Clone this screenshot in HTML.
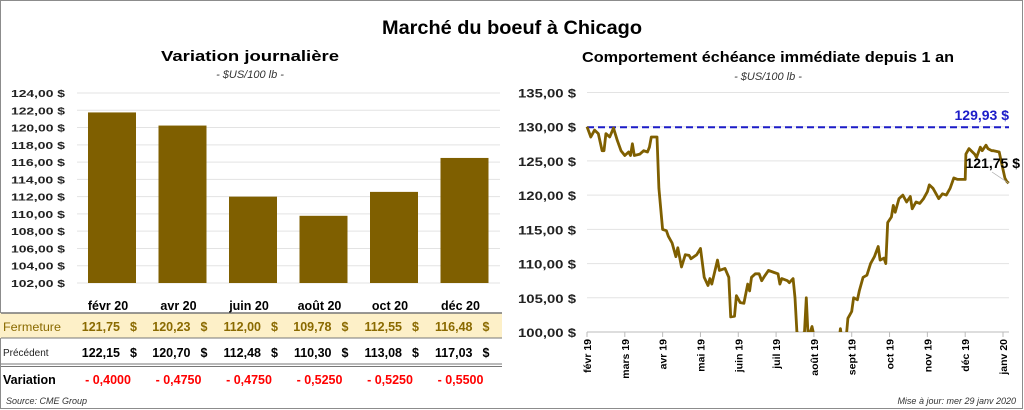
<!DOCTYPE html>
<html><head><meta charset="utf-8"><style>
html,body{margin:0;padding:0;background:#fff;}
svg{display:block;font-family:"Liberation Sans",sans-serif;}
</style></head><body>
<svg id="s" width="1024" height="410" viewBox="0 0 1024 410" xmlns="http://www.w3.org/2000/svg">
<rect x="0.5" y="0.5" width="1022" height="408" fill="#fff" stroke="#8c8c8c"/>
<text x="512" y="34" text-anchor="middle" font-size="19" font-weight="bold" textLength="260" lengthAdjust="spacingAndGlyphs">Marché du boeuf à Chicago</text>
<text x="250" y="61" text-anchor="middle" font-size="15" font-weight="bold" textLength="178" lengthAdjust="spacingAndGlyphs">Variation journalière</text>
<text x="250" y="78" text-anchor="middle" font-size="11" font-style="italic" fill="#333">- $US/100 lb -</text>
<text x="768" y="62" text-anchor="middle" font-size="15" font-weight="bold" textLength="372" lengthAdjust="spacingAndGlyphs">Comportement échéance immédiate depuis 1 an</text>
<text x="768" y="80" text-anchor="middle" font-size="11" font-style="italic" fill="#333">- $US/100 lb -</text>
<g id="left"></g>
<g id="table"></g>
<g id="right"></g>
<text x="6" y="404" font-size="9" font-style="italic" fill="#333">Source: CME Group</text>
<text x="1016" y="404" text-anchor="end" font-size="9" font-style="italic" fill="#333">Mise à jour: mer 29 janv 2020</text>
</svg>
<script>
const barCategories=["févr 20","avr 20","juin 20","août 20","oct 20","déc 20"];
const barValues=[121.75,120.23,112.00,109.78,112.55,116.48];
const prevValues=[122.15,120.70,112.48,110.30,113.08,117.03];
const closeLabels=["121,75","120,23","112,00","109,78","112,55","116,48"];
const prevLabels=["122,15","120,70","112,48","110,30","113,08","117,03"];
const varLabels=["- 0,4000","- 0,4750","- 0,4750","- 0,5250","- 0,5250","- 0,5500"];
const leftTicks=[102,104,106,108,110,112,114,116,118,120,122,124];
const lineTicks=[100,105,110,115,120,125,130,135];
const monthLabels=["févr 19","mars 19","avr 19","mai 19","juin 19","juil 19","août 19","sept 19","oct 19","nov 19","déc 19","janv 20"];
const linePts=[[0,130],[0.1,128.5],[0.2,129.5],[0.3,129],[0.4,126.5],[0.45,126.5],[0.5,129],[0.6,128.5],[0.7,129.8],[0.8,128],[0.9,126.5],[1.0,125.8],[1.1,126.3],[1.15,125.8],[1.2,127.5],[1.25,125.8],[1.4,126],[1.5,126.5],[1.6,126.3],[1.65,127],[1.7,128.5],[1.85,128.5],[1.9,121],[2.0,115],[2.1,114.8],[2.15,114],[2.25,113],[2.3,112],[2.35,111],[2.4,112.3],[2.5,109.5],[2.6,111.3],[2.7,111.2],[2.75,110.7],[2.9,111.3],[3.0,112.2],[3.1,108],[3.2,106.8],[3.25,107.8],[3.3,107],[3.45,110.5],[3.5,109],[3.65,109.3],[3.75,108],[3.8,102.2],[3.9,102.3],[3.95,105.3],[4.05,104.3],[4.15,104.2],[4.25,107],[4.3,106],[4.35,108],[4.45,108.5],[4.55,108.5],[4.62,107.5],[4.7,108.2],[4.8,109],[4.95,108.7],[5.05,108.5],[5.1,107],[5.15,107.8],[5.3,107.5],[5.35,107.2],[5.45,107.8],[5.5,105],[5.55,100],[5.65,99.5],[5.75,100],[5.8,105],[5.85,99],[5.95,100.8],[6.0,99.5],[6.2,96],[6.4,95],[6.6,97],[6.65,98],[6.7,100.5],[6.75,98.5],[6.85,99],[6.9,102],[6.95,102.5],[7.0,103],[7.05,105],[7.15,104.7],[7.2,106],[7.3,108],[7.4,108.3],[7.5,110],[7.6,111],[7.7,112.5],[7.75,110.5],[7.85,110.8],[7.9,110],[7.95,116],[8.05,116.8],[8.1,118.5],[8.15,117.5],[8.25,119.5],[8.35,120],[8.45,119],[8.55,119.8],[8.6,118],[8.7,119],[8.8,118.8],[8.9,119.5],[9.0,120.5],[9.05,121.5],[9.15,121],[9.2,120.5],[9.3,119.5],[9.4,120.2],[9.5,120],[9.6,121],[9.7,122.5],[9.8,122.3],[9.9,122.3],[10.0,122.3],[10.02,126],[10.1,126.8],[10.25,126],[10.3,125.5],[10.4,127],[10.45,126.5],[10.55,127.3],[10.6,126.8],[10.7,126.5],[10.75,126.5],[10.9,126.3],[10.95,125],[11.05,122.5],[11.1,122],[11.15,121.75]];
const refValue=129.93;
const refLabel="129,93 $";
const lastLabel="121,75 $";

const NS="http://www.w3.org/2000/svg";
function mk(tag,attrs,parent,txt){const e=document.createElementNS(NS,tag);for(const k in attrs)e.setAttribute(k,attrs[k]);if(txt!==undefined)e.textContent=txt;parent.appendChild(e);return e;}
const fmt=v=>v.toFixed(2).replace('.',',')+' $';

// left bar chart
const L=document.getElementById('left');
const ly=v=>283-(v-102)*(190/22);
const bx=i=>112+i*70.5;
leftTicks.forEach(t=>{
  const g=mk('line',{x1:77,x2:500,y1:ly(t),y2:ly(t),stroke:'#e3e3e3'},L);
  
  
  const tx=mk('text',{x:65,y:ly(t)+4,'text-anchor':'end','font-size':10.5,'font-weight':'bold',fill:'#222',textLength:54,lengthAdjust:'spacingAndGlyphs'},L,fmt(t));
  
  
});
barValues.forEach((v,i)=>{
  const r=mk('rect',{x:bx(i)-24,y:ly(v),width:48,height:ly(102)-ly(v),fill:'#7f5f00'},L);
  
  
});
// table
const T=document.getElementById('table');
mk('rect',{x:0,y:313,width:502,height:25,fill:'#fdf0c8'},T);
[[313,'#777',1.5],[338,'#777',1],[364,'#777',1],[366.5,'#777',1]].forEach(a=>mk('line',{x1:1,x2:502,y1:a[0],y2:a[0],stroke:a[1],'stroke-width':a[2]},T));
const f1=mk('text',{x:3,y:331,'font-size':12,fill:'#8a6a00',textLength:58,lengthAdjust:'spacingAndGlyphs'},T,'Fermeture');

const f2=mk('text',{x:3,y:356,'font-size':10,fill:'#222'},T,'Précédent');

const f3=mk('text',{x:3,y:384,'font-size':12.5,'font-weight':'bold'},T,'Variation');

barCategories.forEach((c,i)=>{
  const cx=bx(i);
  const h=mk('text',{x:cx-4,y:310,'text-anchor':'middle','font-size':12.5,'font-weight':'bold'},T,c);
  
  const a=mk('text',{x:cx+8,y:331,'text-anchor':'end','font-size':12.5,'font-weight':'bold',fill:'#8a6a00'},T,closeLabels[i]);
  
  mk('text',{x:cx+25,y:331,'text-anchor':'end','font-size':12.5,'font-weight':'bold',fill:'#8a6a00'},T,'$');
  const b=mk('text',{x:cx+8,y:357,'text-anchor':'end','font-size':12.5,'font-weight':'bold'},T,prevLabels[i]);
  
  mk('text',{x:cx+25,y:357,'text-anchor':'end','font-size':12.5,'font-weight':'bold'},T,'$');
  const d=mk('text',{x:cx-4,y:384,'text-anchor':'middle','font-size':12.5,'font-weight':'bold',fill:'#ff0000'},T,varLabels[i]);
  
});

// right line chart
const R=document.getElementById('right');
const ry=v=>332-(v-100)*(239.5/35);
const rx=m=>587+m*(416/11);
mk('defs',{},R).innerHTML='<clipPath id="cp"><rect x="580" y="80" width="440" height="252"/></clipPath>';
lineTicks.forEach(t=>{
  const g=mk('line',{x1:587,x2:1009,y1:ry(t),y2:ry(t),stroke:'#e3e3e3'},R);
  
  
  const tx=mk('text',{x:576,y:ry(t)+5,'text-anchor':'end','font-size':12,'font-weight':'bold',fill:'#222',textLength:58,lengthAdjust:'spacingAndGlyphs'},R,fmt(t));
  
  
});
mk('line',{x1:587,x2:1009,y1:332,y2:332,stroke:'#bbb'},R);
monthLabels.forEach((m,i)=>{
  const x=rx(i);
  mk('line',{x1:x,x2:x,y1:332,y2:337,stroke:'#bbb'},R);
  const t=mk('text',{x:0,y:0,'text-anchor':'end','font-size':10.5,'font-weight':'bold',transform:`translate(${x+4},339) rotate(-90)`},R,m);
  
  
});
const ref=mk('line',{x1:587,x2:1009,y1:ry(refValue),y2:ry(refValue),stroke:'#1c1cc8','stroke-width':2,'stroke-dasharray':'7,4'},R);


const rl=mk('text',{x:1009,y:ry(refValue)-7,'text-anchor':'end','font-size':14,'font-weight':'bold',fill:'#1c1cc8'},R,refLabel);


const p=mk('path',{d:linePts.map((q,i)=>(i?'L':'M')+rx(q[0]).toFixed(1)+','+ry(q[1]).toFixed(1)).join(''),fill:'none',stroke:'#7f5f00','stroke-width':2.8,'stroke-linejoin':'round','clip-path':'url(#cp)'},R);


const last=linePts[linePts.length-1];
mk('line',{x1:992,y1:172,x2:rx(last[0]),y2:ry(last[1]),stroke:'#aaa','stroke-width':0.7},R);
const ll=mk('text',{x:1020,y:168,'text-anchor':'end','font-size':14,'font-weight':'bold'},R,lastLabel);


</script>
</body></html>
